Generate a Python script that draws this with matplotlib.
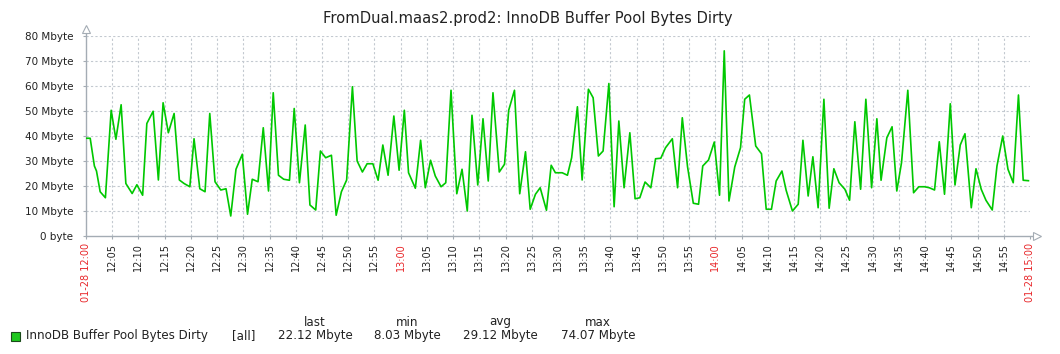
import matplotlib
matplotlib.use('Agg')
import matplotlib.pyplot as plt

# minutes after 12:00 and dirty bytes (Mbyte)
minutes = [0, 0.8, 1.6, 2.0, 2.7, 3.7, 4.8, 5.7, 6.7, 7.6, 8.8, 9.7, 10.8, 11.6, 12.8, 13.8,
           14.7, 15.7, 16.8, 17.8, 18.7, 19.8, 20.6, 21.7, 22.7, 23.6, 24.6, 25.7, 26.7, 27.6,
           28.6, 29.8, 30.8, 31.7, 32.8, 33.8, 34.8, 35.7, 36.7, 37.7, 38.8, 39.7, 40.7, 41.8,
           42.7, 43.8, 44.7, 45.7, 46.8, 47.7, 48.7, 49.7, 50.8, 51.7, 52.7, 53.6, 54.7, 55.7,
           56.6, 57.6, 58.7, 59.7, 60.7, 61.5, 62.8, 63.8, 64.7, 65.7, 66.6, 67.7, 68.6, 69.6,
           70.7, 71.7, 72.7, 73.6, 74.7, 75.7, 76.7, 77.6, 78.8, 79.8, 80.6, 81.7, 82.7, 83.8,
           84.7, 85.7, 86.6, 87.8, 88.7, 89.5, 90.8, 91.8, 92.6, 93.7, 94.6, 95.8, 96.7, 97.7,
           98.6, 99.7, 100.7, 101.6, 102.6, 103.7, 104.7, 105.6, 106.6, 107.7, 108.6, 109.6,
           110.5, 111.8, 112.8, 113.7, 114.7, 115.8, 116.8, 117.6, 118.7, 119.8, 120.8, 121.7,
           122.6, 123.7, 124.8, 125.6, 126.5, 127.7, 128.8, 129.7, 130.7, 131.6, 132.7, 133.5,
           134.7, 135.8, 136.7, 137.7, 138.6, 139.6, 140.7, 141.7, 142.6, 143.6, 144.7, 145.6,
           146.6, 147.7, 148.7, 149.8, 150.8, 151.6, 152.7, 153.7, 154.6, 155.5, 156.7, 157.8,
           158.8, 159.9, 160.8, 161.8, 162.7, 163.7, 164.8, 165.7, 166.7, 167.6, 168.8, 169.7,
           170.7, 171.6, 172.8, 173.7, 174.8, 175.8, 176.8, 177.8, 178.7, 179.7]
dirty_mb = [39.1, 39.1, 28.0, 26.0, 17.7, 15.3, 50.3, 38.7, 52.5, 21.0, 17.0, 20.5, 16.3, 45.0, 49.9, 22.4,
            53.3, 41.3, 49.0, 22.4, 21.0, 19.7, 38.9, 18.9, 17.7, 49.0, 21.7, 18.4, 18.9, 8.0,
            26.7, 32.7, 8.7, 22.7, 21.7, 43.3, 18.0, 57.3, 24.3, 22.7, 22.3, 51.0, 21.3, 44.4,
            12.4, 10.4, 34.0, 31.3, 32.3, 8.3, 17.7, 22.4, 59.7, 30.0, 25.6, 28.9, 28.9, 22.3,
            36.4, 24.3, 48.0, 26.3, 50.3, 25.3, 19.1, 38.3, 19.3, 30.3, 24.0, 19.7, 21.3, 58.3,
            16.9, 26.7, 10.0, 48.3, 20.4, 46.9, 22.0, 57.3, 25.6, 28.7, 50.3, 58.3, 16.9, 33.7,
            10.7, 16.7, 19.3, 10.3, 28.3, 25.3, 25.3, 24.3, 31.3, 51.7, 22.4, 58.7, 55.3, 32.0,
            34.0, 61.0, 11.7, 46.0, 19.3, 41.3, 14.9, 15.3, 21.6, 19.3, 30.9, 31.1,
            35.3, 38.9, 19.3, 47.3, 27.7, 13.1, 12.7, 28.0, 30.4, 37.6, 16.3, 74.07,
            14.0, 27.6, 35.3, 54.7, 56.4, 36.0, 32.9, 10.7, 10.7, 22.0, 26.0, 18.3,
            10.0, 12.7, 38.3, 16.0, 31.7, 11.3, 54.7, 11.1, 26.9, 21.3, 18.7, 14.3,
            45.7, 18.7, 54.7, 19.3, 46.9, 22.3, 39.3, 43.7, 18.0, 29.3, 58.3, 17.3,
            19.7, 19.7, 19.3, 18.4, 37.7, 16.7, 52.9, 20.4, 36.4, 40.9, 11.3, 26.9,
            18.7, 14.3, 10.4, 28.0, 40.0, 26.7, 21.3, 56.4, 22.3, 22.12]

y_ticks = [0, 10, 20, 30, 40, 50, 60, 70, 80]
y_labels = ['0 byte', '10 Mbyte', '20 Mbyte', '30 Mbyte', '40 Mbyte',
            '50 Mbyte', '60 Mbyte', '70 Mbyte', '80 Mbyte']
x_ticks = list(range(0, 181, 5))
x_labels = []
for m in x_ticks:
    hh = 12 + m // 60
    mm = m % 60
    lab = '%d:%02d' % (hh, mm)
    if m in (0, 180):
        lab = '01-28 ' + lab
    x_labels.append(lab)

legend_name = 'InnoDB Buffer Pool Bytes Dirty'
stat_names = ['last', 'min', 'avg', 'max']
stat_values = ['22.12 Mbyte', '8.03 Mbyte', '29.12 Mbyte', '74.07 Mbyte']

W, H = 1060, 354
fig = plt.figure(figsize=(W / 100, H / 100), dpi=100)
fig.patch.set_facecolor('white')
x0, x1, y0, y1 = 86, 1030, 36, 236
ax = fig.add_axes([x0 / W, 1 - y1 / H, (x1 - x0) / W, (y1 - y0) / H])

green = '#00c800'
grid_c = '#c3c9d0'
axis_c = '#a4acb4'

ax.plot(minutes, dirty_mb, color=green, lw=1.2, zorder=3)
ax.set_xlim(0, 180)
ax.set_ylim(0, 80)

for v in y_ticks[1:]:
    ax.axhline(v, color=grid_c, lw=0.8, ls=(0, (2, 2)), zorder=1)
for m in x_ticks[1:-1]:
    ax.axvline(m, color=grid_c, lw=0.8, ls=(0, (2, 2)), zorder=1)

for s in ax.spines.values():
    s.set_visible(False)
# axes with arrow heads, like zabbix
ax.plot([0, 0], [0, 82.4], color=axis_c, lw=1, clip_on=False, zorder=2)
ax.plot([0, 180.6], [0, 0], color=axis_c, lw=1, clip_on=False, zorder=2)
ax.plot([0], [83.0], marker='^', ms=6, mfc='white', mec=axis_c, mew=0.8, clip_on=False)
ax.plot([181.4], [0], marker='>', ms=6, mfc='white', mec=axis_c, mew=0.8, clip_on=False)

ax.set_yticks(y_ticks)
ax.set_yticklabels(y_labels, fontsize=7.5, color='#222222')
ax.set_xticks(x_ticks)
ax.set_xticklabels(x_labels, rotation=90, fontsize=7, va='top')
for m, t in zip(x_ticks, ax.get_xticklabels()):
    t.set_color('#e8282b' if m % 60 == 0 else '#222222')
ax.tick_params(axis='x', length=2, color=axis_c, pad=3)
ax.tick_params(axis='y', length=2, color=axis_c, pad=7)

fig.text(528 / W, 1 - 19 / H, 'FromDual.maas2.prod2: InnoDB Buffer Pool Bytes Dirty',
         ha='center', va='center', fontsize=10.6, color='#222222')

# legend row
fig.patches.append(plt.Rectangle((11 / W, 1 - 341 / H), 9 / W, 9 / H, transform=fig.transFigure,
                                 facecolor='#1ec81e', edgecolor='#1a4a1a', lw=0.8))
fig.text(26 / W, 1 - 336 / H, legend_name, ha='left', va='center', fontsize=8.6, color='#222222')
fig.text(244 / W, 1 - 336 / H, '[all]', ha='center', va='center', fontsize=8.6, color='#222222')
stat_x = [315, 407, 500, 598]
for sx, name, val in zip(stat_x, stat_names, stat_values):
    fig.text(sx / W, 1 - 322 / H, name, ha='center', va='center', fontsize=8.6, color='#222222')
    fig.text(sx / W, 1 - 336 / H, val, ha='center', va='center', fontsize=8.6, color='#222222')

fig.savefig('out.png', dpi=100, facecolor='white')
